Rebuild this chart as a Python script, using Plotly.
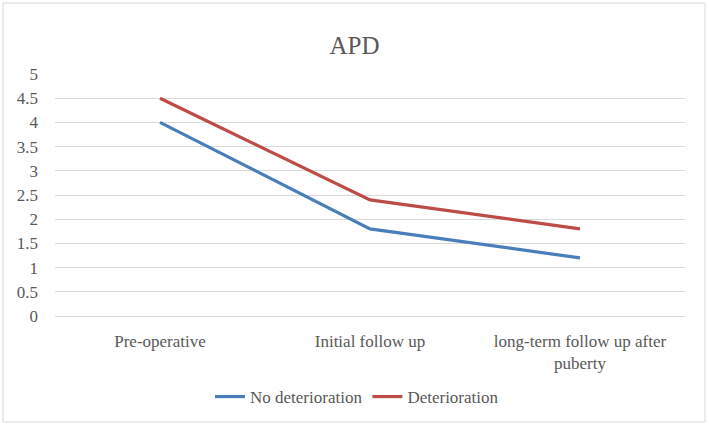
import plotly.graph_objects as go

categories = ["Pre-operative", "Initial follow up", "long-term follow up after<br>puberty"]
no_det = [4.0, 1.8, 1.2]
det = [4.5, 2.4, 1.8]
y_ticks = [0, 0.5, 1, 1.5, 2, 2.5, 3, 3.5, 4, 4.5, 5]

font_family = "Liberation Serif, DejaVu Serif, serif"
txt = "#595959"

fig = go.Figure()
fig.add_trace(go.Scatter(x=categories, y=no_det, mode="lines", name="No deterioration",
                         line=dict(color="#4A7EBB", width=3.2)))
fig.add_trace(go.Scatter(x=categories, y=det, mode="lines", name="Deterioration",
                         line=dict(color="#BE4B48", width=3.2)))

W, H = 709, 428
L, R, T, B = 55, 24, 74, 112
pw, ph = W - L - R, H - T - B

def px_x(p):
    return (p - L) / pw

def px_y(p):
    return (H - B - p) / ph

fig.update_layout(
    width=W, height=H,
    margin=dict(l=L, r=R, t=T, b=B),
    paper_bgcolor="white", plot_bgcolor="white",
    font=dict(family=font_family, color=txt, size=17),
    title=dict(text="APD", x=0.5, xanchor="center", y=1 - 45 / H, yanchor="middle",
               font=dict(size=25, color=txt, family=font_family)),
    xaxis=dict(type="category", range=[-0.5, 2.5], showgrid=False, ticks="", showline=False,
               ticklabelstandoff=13, tickfont=dict(size=17, color=txt)),
    yaxis=dict(range=[0, 5], tickvals=y_ticks, ticktext=[f"{v:g}" for v in y_ticks],
               showgrid=True, gridcolor="#D9D9D9", gridwidth=1,
               zeroline=True, zerolinecolor="#D9D9D9", zerolinewidth=1,
               ticks="", ticklabelstandoff=16, tickfont=dict(size=17, color=txt)),
    showlegend=True,
    legend=dict(orientation="h", x=px_x(357), xanchor="center", y=px_y(397), yanchor="middle",
                font=dict(size=17, color=txt), itemwidth=30, bgcolor="rgba(0,0,0,0)"),
    shapes=[dict(type="rect", xref="paper", yref="paper",
                 x0=px_x(3), x1=px_x(705), y0=px_y(422), y1=px_y(3),
                 line=dict(color="#D9D9D9", width=1), fillcolor="rgba(0,0,0,0)", layer="below")],
)

fig.write_html("out.html")
